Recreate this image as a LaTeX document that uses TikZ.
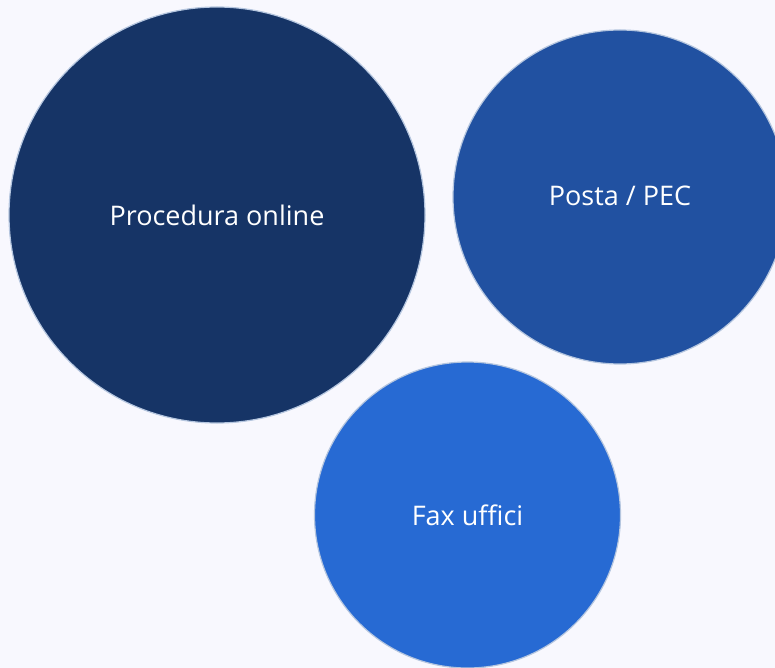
\documentclass[tikz,border=0pt]{standalone}
\usepackage{fontspec}
\setmainfont{Open Sans}[Ligatures=NoCommon]
\definecolor{bg}{HTML}{F8F8FE}
\definecolor{cA}{HTML}{163466}
\definecolor{cB}{HTML}{2151A1}
\definecolor{cC}{HTML}{276AD3}
\definecolor{rim}{HTML}{B5C6DF}
\begin{document}
\begin{tikzpicture}[x=1pt,y=-1pt,
  bubble/.style={circle,draw=rim,line width=1.2pt,inner sep=0pt,text=white,font=\fontsize{27}{32}\selectfont}]
\useasboundingbox (0,0) rectangle (775,668);
\fill[bg] (0,0) rectangle (775,668);
\clip (0,0) rectangle (775,668);
\node[bubble,fill=cA,minimum size=416pt] (a) at (217,215) {Procedura online};
\node[bubble,fill=cB,minimum size=334pt] (b) at (620,197) {\raisebox{3pt}{Posta / PEC}};
\node[bubble,fill=cC,minimum size=306pt] (c) at (467.5,515) {\raisebox{-3pt}{Fax uffici}};
\end{tikzpicture}
\end{document}
